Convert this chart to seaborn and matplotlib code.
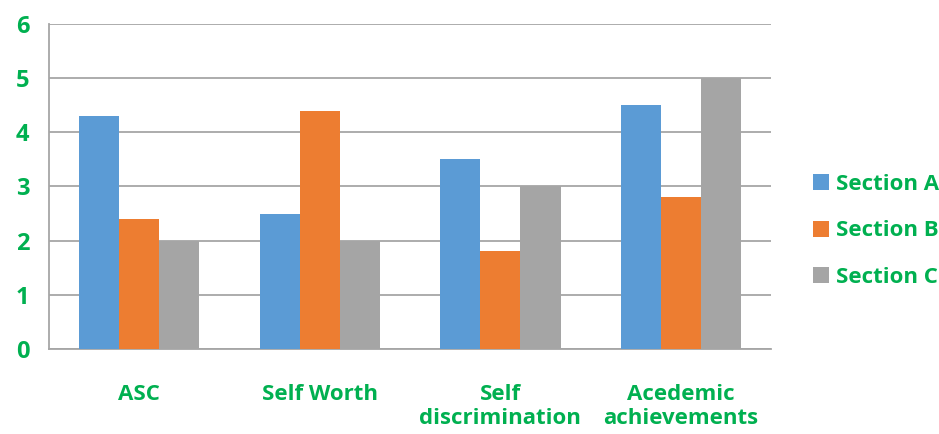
import numpy as np
import pandas as pd
import matplotlib
matplotlib.use("Agg")
import matplotlib.pyplot as plt
import seaborn as sns

# data
categories = ["ASC", "Self Worth", "Self\ndiscrimination", "Acedemic\nachievements"]
sections = ["Section A", "Section B", "Section C"]
section_a = [4.3, 2.5, 3.5, 4.5]
section_b = [2.4, 4.4, 1.8, 2.8]
section_c = [2.0, 2.0, 3.0, 5.0]

df = pd.DataFrame({"category": categories * 3,
                   "section": sum([[s] * 4 for s in sections], []),
                   "value": section_a + section_b + section_c})

green = "#00B050"
grid_col = "#A6A6A6"
palette = ["#5B9BD5", "#ED7D31", "#A5A5A5"]

sns.set_style("white")
plt.rcParams["font.family"] = ["Open Sans", "DejaVu Sans"]

fig = plt.figure(figsize=(9.39, 4.34), dpi=100)
ax = fig.add_axes([0.0522, 0.1959, 0.769, 0.749])

sns.barplot(data=df, x="category", y="value", hue="section", palette=palette,
            width=0.667, saturation=1, linewidth=0, ax=ax, zorder=3)

ax.set_ylim(0, 6)
ax.set_xlim(-0.5, 3.5)
ax.set_yticks(range(7))
ax.yaxis.grid(True, color=grid_col, linewidth=1.3, zorder=0)
ax.set_axisbelow(True)
ax.set_xlabel("")
ax.set_ylabel("")

for s in ["top", "right"]:
    ax.spines[s].set_visible(False)
for s in ["left", "bottom"]:
    ax.spines[s].set_color(grid_col)
    ax.spines[s].set_linewidth(1.3)

ax.tick_params(axis="y", length=6, color=grid_col, width=1.3, pad=8,
               labelsize=17, labelcolor=green)
for t in ax.get_yticklabels():
    t.set_fontweight("bold")

ax.set_xticks(range(len(categories)))
ax.set_xticklabels(categories, fontsize=16, fontweight="bold", color=green)
ax.set_xticks(np.arange(-0.5, 4, 1), minor=True)
ax.tick_params(axis="x", which="minor", length=6, color=grid_col, width=1.3)
ax.tick_params(axis="x", which="major", length=0, pad=25)

leg = ax.legend(loc="center left", bbox_to_anchor=(1.03, 0.363), frameon=False,
                handlelength=0.75, handleheight=0.75, handletextpad=0.3,
                labelspacing=1.15, fontsize=16)
for t in leg.get_texts():
    t.set_color(green)
    t.set_fontweight("bold")

fig.savefig("out.png", dpi=100)
